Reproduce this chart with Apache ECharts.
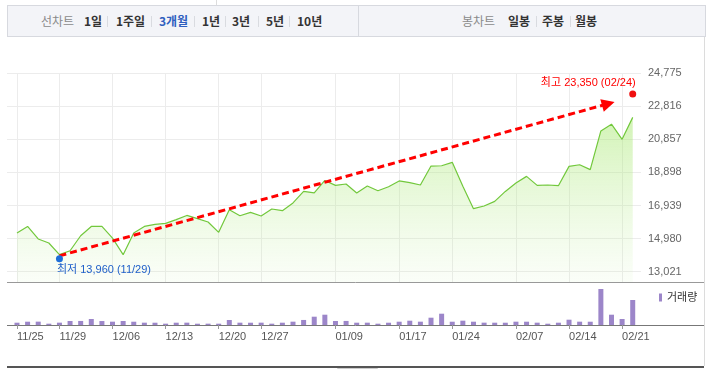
<!DOCTYPE html>
<html>
<head>
<meta charset="utf-8">
<script src="https://cdn.jsdelivr.net/npm/echarts@6/dist/echarts.min.js"></script>
<style>
body { margin: 0; background: #fff; }
#wrap { position: relative; width: 711px; height: 369px; overflow: hidden; }
#chart { position: absolute; left: 0; top: 0; width: 711px; height: 369px; }
.tabs { position: absolute; left: 7px; top: 5px; width: 697px; height: 30px; background: #f3f4f8; border: 1px solid #d7d9df; z-index: 2;
  font-family: 'Noto Sans CJK KR', sans-serif; font-size: 12px; }
.tabs span { position: absolute; top: 0; line-height: 30px; white-space: nowrap; }
.tabs .lbl { color: #8a8a8a; }
.tabs .it { color: #333; font-weight: bold; }
.tabs .on { color: #2f5fbf; font-weight: bold; }
.tabs i { position: absolute; top: 10px; width: 1px; height: 11px; background: #d9dbe0; }
.tabs .divider { position: absolute; left: 350px; top: 0; width: 1px; height: 30px; background: #d7d9df; }
</style>
</head>
<body>
<div id="wrap">
  <div id="chart"></div>
  <div class="tabs">
    <span class="lbl" style="left:33px">선차트</span>
    <span class="it" style="left:76px">1일</span><i style="left:99px"></i>
    <span class="it" style="left:108px">1주일</span><i style="left:143px"></i>
    <span class="on" style="left:151px">3개월</span><i style="left:186px"></i>
    <span class="it" style="left:194px">1년</span><i style="left:217px"></i>
    <span class="it" style="left:224px">3년</span><i style="left:250px"></i>
    <span class="it" style="left:258px">5년</span><i style="left:281px"></i>
    <span class="it" style="left:289px">10년</span>
    <div class="divider"></div>
    <span class="lbl" style="left:454px">봉차트</span>
    <span class="it" style="left:500px">일봉</span><i style="left:528px"></i>
    <span class="it" style="left:534px">주봉</span><i style="left:562px"></i>
    <span class="it" style="left:567px">월봉</span>
  </div>
</div>
<script>
// 거래일 (11/25 ~ 02/24)
const dates = ['11/25', '11/26', '11/27', '11/28', '11/29', '12/02', '12/03', '12/04', '12/05', '12/06',
  '12/09', '12/10', '12/11', '12/12', '12/13', '12/16', '12/17', '12/18', '12/19', '12/20',
  '12/23', '12/24', '12/26', '12/27', '12/30', '01/02', '01/03', '01/06', '01/07', '01/08',
  '01/09', '01/10', '01/13', '01/14', '01/15', '01/16', '01/17', '01/20', '01/21', '01/22',
  '01/23', '01/24', '01/31', '02/03', '02/04', '02/05', '02/06', '02/07', '02/10', '02/11',
  '02/12', '02/13', '02/14', '02/17', '02/18', '02/19', '02/20', '02/21', '02/24'];

// 종가
const closes = [15310, 15700, 14960, 14720, 14030, 14260, 15150, 15700, 15700, 15010,
  14030, 15310, 15700, 15820, 15880, 16100, 16350, 16160, 15960, 15350,
  16690, 16330, 16530, 16320, 16730, 16630, 17090, 17770, 17680, 18420,
  18130, 18210, 17680, 18090, 17810, 18050, 18390, 18290, 18150, 19270,
  19290, 19490, 18070, 16750, 16910, 17180, 17770, 18270, 18660, 18130,
  18150, 18110, 19250, 19350, 19060, 21350, 21750, 20850, 22150];

// 거래량
const volumes = [115000, 165000, 168000, 65000, 117000, 200000, 202000, 300000, 198000, 166000,
  201000, 164000, 116000, 114000, 66000, 115000, 117000, 64000, 66000, 65000,
  250000, 116000, 114000, 117000, 66000, 115000, 166000, 252000, 415000, 515000,
  200000, 203000, 115000, 116000, 65000, 114000, 165000, 215000, 166000, 365000,
  565000, 164000, 216000, 165000, 117000, 115000, 114000, 166000, 165000, 116000,
  64000, 115000, 265000, 166000, 164000, 1800000, 515000, 300000, 1250000];

const tickDates = ['11/25', '11/29', '12/06', '12/13', '12/20', '12/27', '01/09', '01/17', '01/24', '02/07', '02/14', '02/21'];
const priceTicks = [13021, 14980, 16939, 18898, 20857, 22816, 24775];

const lowPoint = { date: '11/29', price: 13960 };
const highPoint = { date: '02/24', price: 23350 };

const FONT = "'Liberation Sans', 'Noto Sans CJK KR', sans-serif";
const fmt = v => Number(v).toLocaleString('en-US');
const tickIdx = tickDates.map(d => dates.indexOf(d));
const lowIdx = dates.indexOf(lowPoint.date);
const highIdx = dates.indexOf(highPoint.date);

let chart = echarts.init(document.getElementById('chart'));

let option = {
    animation: false,
    grid: [
        { left: 7, top: 73, width: 634, height: 209 },
        { left: 7, top: 283, width: 634, height: 42 }
    ],
    legend: {
        data: ['거래량'],
        left: 654,
        top: 287,
        icon: 'rect',
        itemWidth: 3,
        itemHeight: 8,
        textStyle: { fontSize: 11, color: '#333', fontFamily: FONT }
    },
    xAxis: [
        {
            gridIndex: 0, type: 'value', min: -0.94, max: 58.78,
            axisLine: { show: false },
            axisTick: { show: false, customValues: tickIdx },
            axisLabel: { show: false, customValues: tickIdx },
            splitLine: { show: true, lineStyle: { color: '#ececec' } }
        },
        {
            gridIndex: 1, type: 'value', min: -0.94, max: 58.78,
            axisLine: { show: false },
            axisTick: { show: true, customValues: tickIdx, length: 4, lineStyle: { color: '#999' } },
            axisLabel: {
                customValues: tickIdx,
                formatter: v => dates[v],
                align: 'left',
                margin: 6,
                color: '#555',
                fontSize: 11,
                fontFamily: FONT
            },
            splitLine: { show: false }
        }
    ],
    yAxis: [
        {
            gridIndex: 0, type: 'value', position: 'right', min: 12413, max: 24775,
            axisLine: { show: false },
            axisTick: { show: false, customValues: priceTicks },
            axisLabel: { customValues: priceTicks, formatter: fmt, margin: 7, color: '#666', fontSize: 11, fontFamily: FONT },
            splitLine: { show: true, lineStyle: { color: '#ececec' } }
        },
        { gridIndex: 1, type: 'value', min: 0, max: 2100000, show: false }
    ],
    graphic: [
        { type: 'line', silent: true, shape: { x1: 7, y1: 282.5, x2: 704, y2: 282.5 }, style: { stroke: '#999', lineWidth: 1 } },
        { type: 'line', silent: true, shape: { x1: 7, y1: 325.5, x2: 704, y2: 325.5 }, style: { stroke: '#777', lineWidth: 1 } },
        { type: 'line', silent: true, shape: { x1: 7, y1: 367, x2: 704, y2: 367 }, style: { stroke: '#555', lineWidth: 2 } },
        { type: 'line', silent: true, shape: { x1: 704.5, y1: 37, x2: 704.5, y2: 366 }, style: { stroke: '#dcdcdc', lineWidth: 1 } },
        { type: 'rect', silent: true, shape: { x: 337.5, y: 368.5, width: 40, height: 4 }, style: { fill: '#fff', stroke: '#ccc' } },
        { type: 'line', silent: true, shape: { x1: 216.5, y1: 0, x2: 216.5, y2: 5 }, style: { stroke: '#ddd', lineWidth: 1 } }
    ],
    series: [
        {
            name: '종가',
            type: 'line',
            xAxisIndex: 0,
            yAxisIndex: 0,
            data: closes.map((v, i) => [i, v]),
            symbol: 'none',
            lineStyle: { color: '#72c83c', width: 1.2 },
            areaStyle: {
                color: new echarts.graphic.LinearGradient(0, 0, 0, 1, [
                    { offset: 0, color: 'rgba(160,230,100,0.68)' },
                    { offset: 1, color: 'rgba(200,240,170,0.12)' }
                ])
            },
            markLine: {
                silent: true,
                symbol: ['none', 'triangle'],
                symbolSize: 13,
                label: { show: false },
                lineStyle: { color: '#ff0000', width: 3, type: [7, 4] },
                data: [[
                    { coord: [lowIdx, lowPoint.price] },
                    { coord: [55.7, 22960] }
                ]]
            },
            markPoint: {
                silent: true,
                data: [
                    {
                        coord: [lowIdx, lowPoint.price],
                        symbol: 'circle',
                        symbolSize: 7,
                        symbolOffset: [0, 3],
                        itemStyle: { color: '#1e6ed8' },
                        label: {
                            show: true,
                            formatter: '최저 ' + fmt(lowPoint.price) + ' (' + lowPoint.date + ')',
                            position: [1, 14.5],
                            align: 'left',
                            verticalAlign: 'middle',
                            color: '#1f5fc9',
                            fontSize: 11,
                            fontFamily: FONT
                        }
                    },
                    {
                        coord: [highIdx, highPoint.price],
                        symbol: 'circle',
                        symbolSize: 7,
                        symbolOffset: [0, -3],
                        itemStyle: { color: '#f01010' },
                        label: {
                            show: true,
                            formatter: '최고 ' + fmt(highPoint.price) + ' (' + highPoint.date + ')',
                            position: [6.5, -7.2],
                            align: 'right',
                            verticalAlign: 'middle',
                            color: '#ff0000',
                            fontSize: 11,
                            fontFamily: FONT
                        }
                    }
                ]
            }
        },
        {
            name: '거래량',
            type: 'bar',
            xAxisIndex: 1,
            yAxisIndex: 1,
            data: volumes.map((v, i) => [i, v]),
            barWidth: 5,
            itemStyle: { color: '#9c86c9' }
        }
    ]
};

chart.setOption(option);
</script>
</body>
</html>
